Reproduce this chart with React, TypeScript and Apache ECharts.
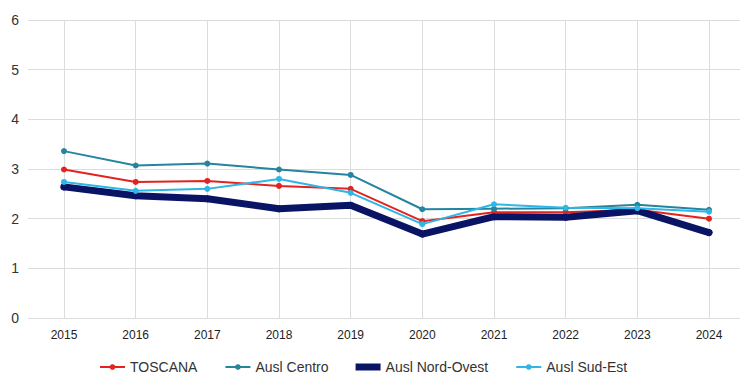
import React, { useEffect, useRef } from "react";
import * as echarts from "echarts";

const years = ["2015", "2016", "2017", "2018", "2019", "2020", "2021", "2022", "2023", "2024"];
const yTicks = [0, 6, 1];
const toscana = [2.99, 2.74, 2.76, 2.66, 2.6, 1.95, 2.13, 2.13, 2.18, 2.0];
const auslCentro = [3.36, 3.07, 3.11, 2.99, 2.88, 2.19, 2.2, 2.21, 2.28, 2.18];
const auslNordOvest = [2.64, 2.46, 2.4, 2.2, 2.27, 1.69, 2.04, 2.03, 2.16, 1.72];
const auslSudEst = [2.74, 2.56, 2.6, 2.8, 2.52, 1.89, 2.29, 2.22, 2.21, 2.14];

const FONT = "'Liberation Sans', Arial, sans-serif";
const GRID_COLOR = "#dcdcdc";

export default function App() {
  const ref = useRef<HTMLDivElement>(null);
  useEffect(() => {
    if (!ref.current) return;
    const chart = echarts.init(ref.current, undefined, { renderer: "svg" });
    const thin = (name: string, data: number[], color: string) => ({
      name,
      type: "line",
      data,
      xAxisIndex: 0,
      yAxisIndex: 0,
      symbol: "circle",
      symbolSize: 6,
      lineStyle: { width: 2, color },
      itemStyle: { color },
    });
    chart.setOption({
      animation: false,
      backgroundColor: "#ffffff",
      textStyle: { fontFamily: FONT },
      grid: [
        { left: 64, right: 31, top: 20, height: 298, containLabel: false },
        { left: 28, right: 0, top: 20, height: 298, containLabel: false },
      ],
      xAxis: [
        {
          type: "category",
          gridIndex: 0,
          data: years,
          boundaryGap: false,
          axisLine: { show: false },
          axisTick: { show: false },
          axisLabel: { fontSize: 12, color: "#222", margin: 11, fontFamily: FONT },
          splitLine: { show: true, lineStyle: { color: GRID_COLOR, width: 1 } },
        },
        {
          type: "category",
          gridIndex: 1,
          data: years,
          show: false,
        },
      ],
      yAxis: [
        {
          type: "value",
          gridIndex: 0,
          min: yTicks[0],
          max: yTicks[1],
          interval: yTicks[2],
          show: false,
          splitLine: { show: false },
        },
        {
          type: "value",
          gridIndex: 1,
          min: yTicks[0],
          max: yTicks[1],
          interval: yTicks[2],
          axisLine: { show: false },
          axisTick: { show: false },
          axisLabel: { fontSize: 14, color: "#333", margin: 9, fontFamily: FONT },
          splitLine: { show: true, lineStyle: { color: GRID_COLOR, width: 1 } },
          z: 0,
        },
      ],
      legend: {
        left: 99,
        top: 360,
        padding: 0,
        itemWidth: 25,
        itemHeight: 7,
        itemGap: 27,
        textStyle: { fontSize: 14, color: "#333", fontFamily: FONT },
        data: [
          "TOSCANA",
          "Ausl Centro",
          { name: "Ausl Nord-Ovest", icon: "rect" },
          "Ausl Sud-Est",
        ],
      },
      series: [
        thin("TOSCANA", toscana, "#e2231f"),
        thin("Ausl Centro", auslCentro, "#25849e"),
        {
          name: "Ausl Nord-Ovest",
          type: "line",
          data: auslNordOvest,
          xAxisIndex: 0,
          yAxisIndex: 0,
          symbol: "circle",
          symbolSize: 7,
          lineStyle: { width: 7, color: "#0a1464", cap: "round", join: "round" },
          itemStyle: { color: "#0a1464" },
        },
        thin("Ausl Sud-Est", auslSudEst, "#2db6e6"),
      ],
    });
    return () => chart.dispose();
  }, []);
  return (
    <div
      ref={ref}
      style={{ position: "fixed", left: 0, top: 0, width: 740, height: 384, background: "#fff" }}
    />
  );
}
